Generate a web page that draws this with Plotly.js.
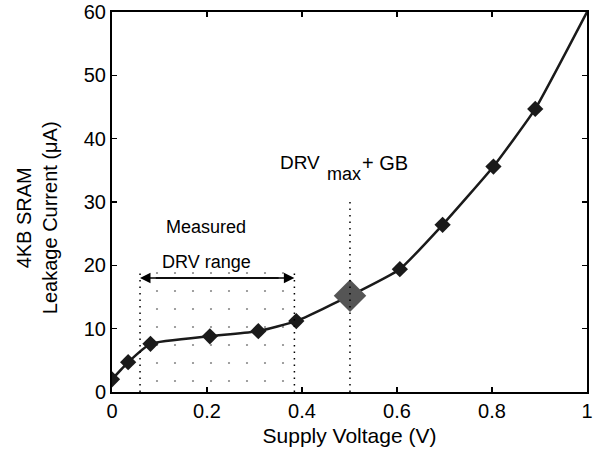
<!DOCTYPE html>
<html><head><meta charset="utf-8">
<script src="https://cdn.plot.ly/plotly-3.0.1.min.js"></script>
<style>html,body{margin:0;padding:0;background:#fff}</style>
</head><body>
<div id="chart" style="width:593px;height:453px"></div>
<script>
// Measured points (Supply Voltage V, Leakage Current uA)
const voltage = [0, 0.034, 0.081, 0.206, 0.308, 0.388, 0.501, 0.606, 0.696, 0.803, 0.891, 1.0];
const leakage = [2.0, 4.7, 7.6, 8.8, 9.6, 11.2, 15.2, 19.4, 26.4, 35.6, 44.7, 60.0];
// markers (all but the curve end point)
const markerV = [0, 0.034, 0.081, 0.206, 0.308, 0.388, 0.606, 0.696, 0.803, 0.891];
const markerI = [2.0, 4.7, 7.6, 8.8, 9.6, 11.2, 19.4, 26.4, 35.6, 44.7];
// DRV max + guard band point
const gbV = [0.501];
const gbI = [15.2];
// measured DRV range region
const drvRangeV = [0.059, 0.384];
const drvRangeTop = 19.4;
const arrowI = 18.0;
const xTicks = [0, 0.2, 0.4, 0.6, 0.8, 1];
const xTickText = ['0', '0.2', '0.4', '0.6', '0.8', '1'];
const yTicks = [0, 10, 20, 30, 40, 50, 60];

const font = 'Liberation Sans, Arial, Helvetica, sans-serif';

const traces = [
  {
    x: [drvRangeV[0], drvRangeV[1], drvRangeV[1], drvRangeV[0], drvRangeV[0]],
    y: [0, 0, drvRangeTop, drvRangeTop, 0],
    mode: 'none', fill: 'toself', fillcolor: 'rgba(255,255,255,0)',
    fillpattern: {shape: '.', fgcolor: '#8a8a8a', bgcolor: 'rgba(255,255,255,0)', size: 18, solidity: 0.012},
    hoverinfo: 'skip', showlegend: false
  },
  {
    x: voltage, y: leakage, mode: 'lines',
    line: {color: '#1a1a1a', width: 2.5, shape: 'spline', smoothing: 0.4},
    showlegend: false
  },
  {
    x: markerV, y: markerI, mode: 'markers',
    marker: {symbol: 'diamond', size: 12.5, color: '#1a1a1a'},
    showlegend: false
  },
  {
    x: gbV, y: gbI, mode: 'markers',
    marker: {symbol: 'diamond', size: 25, color: '#555555'},
    showlegend: false
  }
];

const dotLine = {color: '#000', width: 1.5, dash: '1.5px,5px'};
const layout = {
  width: 593, height: 453,
  margin: {l: 112, r: 6, t: 12, b: 61},
  paper_bgcolor: '#fff', plot_bgcolor: '#fff',
  font: {family: font, size: 20, color: '#000'},
  xaxis: {
    range: [0, 1], tickvals: xTicks, ticktext: xTickText,
    ticks: 'inside', ticklen: 5, tickwidth: 1.5, tickcolor: '#000',
    showline: true, linecolor: '#000', linewidth: 2, mirror: 'ticks',
    showgrid: false, zeroline: false,
    tickfont: {size: 20},
    title: {text: 'Supply Voltage (V)', font: {size: 21}, standoff: 7}
  },
  yaxis: {
    range: [0, 60], tickvals: yTicks,
    ticks: 'inside', ticklen: 5, tickwidth: 1.5, tickcolor: '#000',
    showline: true, linecolor: '#000', linewidth: 2, mirror: 'ticks',
    showgrid: false, zeroline: false,
    tickfont: {size: 20}
  },
  shapes: [
    {type: 'line', xref: 'x', yref: 'y', x0: drvRangeV[0], x1: drvRangeV[0], y0: 0, y1: drvRangeTop, line: dotLine},
    {type: 'line', xref: 'x', yref: 'y', x0: drvRangeV[1], x1: drvRangeV[1], y0: 0, y1: drvRangeTop, line: dotLine},
    {type: 'line', xref: 'x', yref: 'y', x0: gbV[0], x1: gbV[0], y0: 0, y1: 30.6, line: dotLine}
  ],
  annotations: [
    {x: drvRangeV[1], y: arrowI, ax: drvRangeV[0] + 0.03, ay: arrowI, xref: 'x', yref: 'y', axref: 'x', ayref: 'y',
     showarrow: true, arrowhead: 2, arrowsize: 1.4, arrowwidth: 1.5, arrowcolor: '#000', text: ''},
    {x: drvRangeV[0], y: arrowI, ax: drvRangeV[1] - 0.03, ay: arrowI, xref: 'x', yref: 'y', axref: 'x', ayref: 'y',
     showarrow: true, arrowhead: 2, arrowsize: 1.4, arrowwidth: 1.5, arrowcolor: '#000', text: ''},
    {x: 0.198, y: 26.0, xref: 'x', yref: 'y', text: 'Measured', showarrow: false, font: {size: 18}},
    {x: 0.198, y: 20.6, xref: 'x', yref: 'y', text: 'DRV range', showarrow: false, font: {size: 18}},
    {x: 0.442, y: 36.2, xref: 'x', yref: 'y', xanchor: 'right', text: 'DRV', showarrow: false, font: {size: 19}},
    {x: 0.449, y: 34.4, xref: 'x', yref: 'y', xanchor: 'left', text: 'max', showarrow: false, font: {size: 18}},
    {x: 0.522, y: 36.2, xref: 'x', yref: 'y', xanchor: 'left', text: '+ GB', showarrow: false, font: {size: 20}},
    {x: -0.158, y: 0.46, xref: 'paper', yref: 'paper', xanchor: 'center', yanchor: 'middle', textangle: -90, showarrow: false,
     text: '4KB SRAM<br>Leakage Current (\u03bcA)', font: {size: 20}}
  ]
};

Plotly.newPlot('chart', traces, layout, {displayModeBar: false, staticPlot: true});
</script>
</body></html>
